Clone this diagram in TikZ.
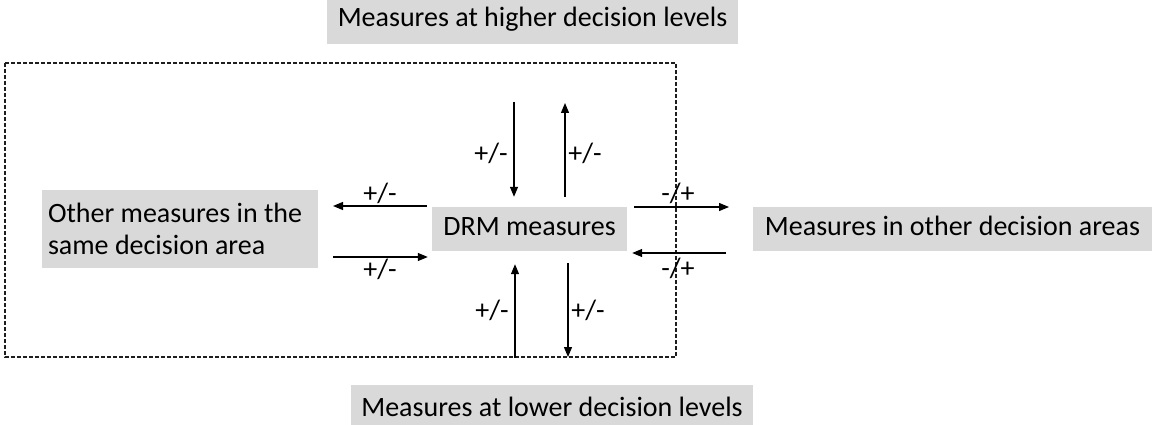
\documentclass[tikz,border=0pt]{standalone}
\usepackage{fontspec}
\setmainfont{Carlito}
\usepackage{xcolor}
\usetikzlibrary{arrows.meta,positioning,calc}
\definecolor{levelGray}{RGB}{217,217,217}
\definecolor{frameGray}{RGB}{30,30,30}

\tikzset{
  measure/.style={fill=levelGray, inner sep=0pt, text height=19pt, text depth=6pt,
    font=\fontsize{28}{32}\selectfont},
  effect/.style={-{Triangle[length=10pt,width=8pt]}, line width=1.2pt},
  sign/.style={inner sep=0pt, font=\fontsize{28}{32}\selectfont},
}

\begin{document}
\begin{tikzpicture}[x=1pt,y=-1pt]
    \useasboundingbox (0,0) rectangle (1152,425);

    % scope of the decision area
    \draw[frameGray, line width=1.2pt, dash pattern=on 4pt off 2pt] (5,63) rectangle (676,357);

    % measures
    \node[measure, minimum width=195pt, minimum height=44pt] (drm) at (529.5,229) {DRM measures};
    \node[measure, minimum width=411pt, minimum height=48pt] (higher) at (532.5,20) {Measures at higher decision levels};
    \node[measure, minimum width=402pt, minimum height=50pt] (lower) at (552,410) {Measures at lower decision levels};
    \node[measure, minimum width=399pt, minimum height=44pt] (other) at (952.5,229) {Measures in other decision areas};
    \node[measure, minimum width=276pt, minimum height=78pt, inner xsep=6pt, text width=264pt,
          align=flush left, text height=, text depth=] (same) at (180,229)
          {Other measures in the\\same decision area};

    % free ends of the effects
    \coordinate (topIn) at (514,102);
    \coordinate (topOut) at (565,103);
    \coordinate (lowIn) at (515,358);
    \coordinate (lowOut) at (568,357);
    \coordinate (sideOut) at (729,207);
    \coordinate (sideIn) at (726,253);
    \coordinate (sameOut) at (333,206);
    \coordinate (sameIn) at (333,257);

    % effects
    \draw[effect, shorten >=10pt] (topIn) -- (topIn |- drm.north);
    \draw[effect, shorten <=10pt] (topOut |- drm.north) -- (topOut);
    \draw[effect, shorten >=13pt] (lowIn) -- (lowIn |- drm.south);
    \draw[effect, shorten <=12pt] (lowOut |- drm.south) -- (lowOut);
    \draw[effect, shorten <=7pt] (drm.east |- sideOut) -- (sideOut);
    \draw[effect, shorten >=5pt] (sideIn) -- (drm.east |- sideIn);
    \draw[effect, shorten <=5pt] (drm.west |- sameOut) -- (sameOut);
    \draw[effect, shorten >=4pt] (sameIn) -- (drm.west |- sameIn);

    % signs
    \node[sign] (signTopIn) at (491,153) {+/-};
    \node[sign] (signTopOut) at (585,153) {+/-};
    \node[sign] (signLowIn) at (492,310) {+/-};
    \node[sign] (signLowOut) at (588,310) {+/-};
    \node[sign] (signSideOut) at (678,193) {-/+};
    \node[sign] (signSideIn) at (678,268) {-/+};
    \node[sign] (signSameOut) at (380,193) {+/-};
    \node[sign] (signSameIn) at (380,269) {+/-};
\end{tikzpicture}
\end{document}
